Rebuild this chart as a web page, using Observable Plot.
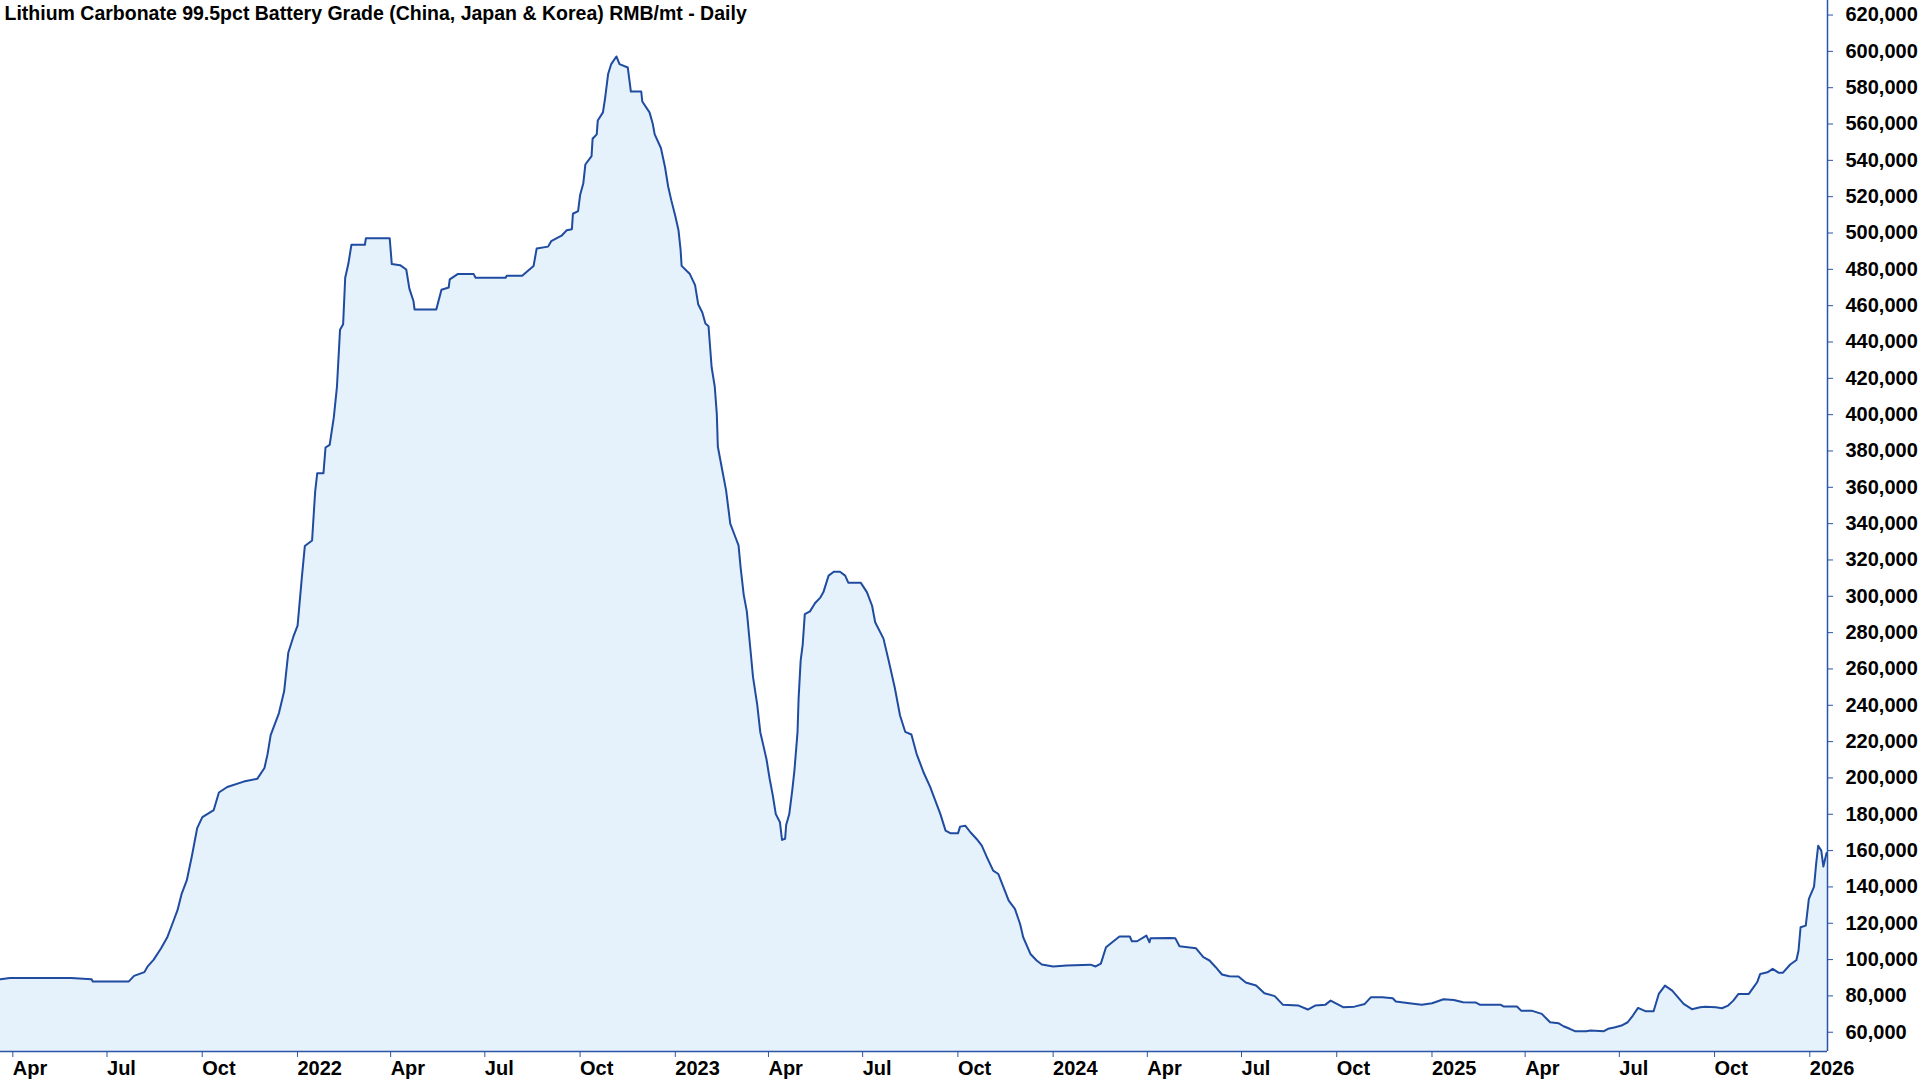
<!DOCTYPE html>
<html>
<head>
<meta charset="utf-8">
<script src="https://cdn.jsdelivr.net/npm/d3@7"></script>
<script src="https://cdn.jsdelivr.net/npm/@observablehq/plot@0.6"></script>
<style>
  html, body { margin: 0; padding: 0; background: #ffffff; }
  #chart { width: 1920px; height: 1080px; }
</style>
</head>
<body>
<div id="chart"></div>
<script>
const title = "Lithium Carbonate 99.5pct Battery Grade (China, Japan & Korea) RMB/mt - Daily";

const dates = [
  "2021-03-23","2021-04-01","2021-05-30","2021-06-19","2021-06-20","2021-07-25","2021-07-30","2021-08-09","2021-08-12","2021-08-18",
  "2021-08-25","2021-08-31","2021-09-05","2021-09-10","2021-09-14","2021-09-19","2021-09-24","2021-09-29","2021-10-04","2021-10-15",
  "2021-10-20","2021-10-28","2021-11-13","2021-11-26","2021-12-03","2021-12-06","2021-12-09","2021-12-17","2021-12-22","2021-12-26",
  "2021-12-31","2022-01-04","2022-01-08","2022-01-11","2022-01-18","2022-01-21","2022-01-23","2022-01-29","2022-01-31","2022-02-04",
  "2022-02-08","2022-02-11","2022-02-14","2022-02-17","2022-02-19","2022-02-22","2022-02-25","2022-03-10","2022-03-11","2022-04-03",
  "2022-04-05","2022-04-13","2022-04-19","2022-04-22","2022-04-26","2022-04-27","2022-05-18","2022-05-23","2022-05-30","2022-05-31",
  "2022-06-08","2022-06-23","2022-06-25","2022-07-24","2022-07-25","2022-08-09","2022-08-14","2022-08-20","2022-08-23","2022-09-03",
  "2022-09-06","2022-09-16","2022-09-21","2022-09-26","2022-09-27","2022-10-02","2022-10-04","2022-10-07","2022-10-09","2022-10-15",
  "2022-10-16","2022-10-20","2022-10-21","2022-10-26","2022-10-28","2022-10-31","2022-11-03","2022-11-08","2022-11-11","2022-11-19",
  "2022-11-22","2022-12-02","2022-12-03","2022-12-10","2022-12-13","2022-12-15","2022-12-21","2022-12-25","2022-12-28","2022-12-31",
  "2023-01-04","2023-01-07","2023-01-09","2023-01-10","2023-01-18","2023-01-23","2023-01-26","2023-01-30","2023-02-02","2023-02-05",
  "2023-02-06","2023-02-08","2023-02-11","2023-02-13","2023-02-14","2023-02-18","2023-02-22","2023-02-26","2023-03-03","2023-03-06",
  "2023-03-08","2023-03-11","2023-03-14","2023-03-17","2023-03-20","2023-03-24","2023-03-27","2023-03-30","2023-04-02","2023-04-05",
  "2023-04-08","2023-04-11","2023-04-15","2023-04-17","2023-04-20","2023-04-21","2023-04-24","2023-04-27","2023-04-29","2023-05-02",
  "2023-05-03","2023-05-05","2023-05-07","2023-05-09","2023-05-14","2023-05-19","2023-05-24","2023-05-27","2023-06-01","2023-06-06",
  "2023-06-12","2023-06-17","2023-06-20","2023-07-02","2023-07-08","2023-07-13","2023-07-16","2023-07-24","2023-07-29","2023-08-04",
  "2023-08-09","2023-08-14","2023-08-20","2023-08-25","2023-09-01","2023-09-07","2023-09-12","2023-09-17","2023-09-22","2023-09-27",
  "2023-10-04","2023-10-06","2023-10-11","2023-10-16","2023-10-22","2023-10-27","2023-11-01","2023-11-07","2023-11-12","2023-11-17",
  "2023-11-22","2023-11-28","2023-12-03","2023-12-06","2023-12-13","2023-12-19","2023-12-24","2024-01-04","2024-01-17","2024-02-09",
  "2024-02-14","2024-02-19","2024-02-24","2024-03-01","2024-03-08","2024-03-18","2024-03-20","2024-03-25","2024-04-03","2024-04-06",
  "2024-04-07","2024-04-26","2024-05-01","2024-05-05","2024-05-13","2024-05-21","2024-05-28","2024-06-03","2024-06-09","2024-06-15",
  "2024-06-22","2024-07-01","2024-07-08","2024-07-18","2024-07-26","2024-08-05","2024-08-13","2024-08-28","2024-09-06","2024-09-13",
  "2024-09-23","2024-09-28","2024-10-04","2024-10-10","2024-10-21","2024-10-31","2024-11-06","2024-11-17","2024-11-27","2024-11-30",
  "2024-12-13","2024-12-25","2025-01-04","2025-01-15","2025-01-25","2025-02-03","2025-02-15","2025-02-19","2025-03-11","2025-03-14",
  "2025-03-27","2025-03-31","2025-04-10","2025-04-20","2025-04-28","2025-05-06","2025-05-11","2025-05-17","2025-05-22","2025-06-02",
  "2025-06-06","2025-06-19","2025-06-23","2025-06-30","2025-07-06","2025-07-12","2025-07-17","2025-07-22","2025-07-29","2025-08-06",
  "2025-08-11","2025-08-17","2025-08-24","2025-08-30","2025-09-04","2025-09-12","2025-09-20","2025-09-25","2025-10-05","2025-10-11",
  "2025-10-17","2025-10-22","2025-10-27","2025-11-06","2025-11-11","2025-11-14","2025-11-17","2025-11-24","2025-11-29","2025-12-05",
  "2025-12-09","2025-12-16","2025-12-22","2025-12-24","2025-12-26","2025-12-31","2026-01-03","2026-01-08","2026-01-10","2026-01-12",
  "2026-01-15","2026-01-17","2026-01-18","2026-01-20","2026-01-21"
];

const prices = [
  89200,89800,89800,89200,88000,88000,91000,93100,96100,100000,
  106100,112100,119600,127200,136200,143700,157300,172400,178400,182300,
  192000,195000,198000,199500,205500,213100,223600,235700,247700,268900,
  277900,283900,309600,327700,330700,357800,367800,367800,381900,383400,
  398500,415100,446700,449800,475400,482900,493500,493500,497100,497100,
  482900,482300,479900,469400,462400,457900,457900,468800,470000,474500,
  477500,477500,475400,475400,476500,476500,478900,481900,491500,492500,
  495500,498500,501500,502100,510600,512100,521100,527200,537700,542300,
  551900,554300,561900,566400,573900,587500,593000,597200,593000,591100,
  577900,577900,572400,566400,560400,554300,546800,536200,525600,518100,
  509100,501500,490900,481900,477400,471300,460800,456200,450200,448700,
  441100,426100,415500,400400,382300,370200,358200,340000,332500,328000,
  315900,300800,291700,273600,255500,240500,225200,217800,210300,199700,
  190700,180100,175600,165900,166500,174100,180100,193700,204200,225400,
  243500,264600,273600,290200,291700,296300,299300,302300,311400,313500,
  313500,311400,307500,307500,302300,294800,285700,276700,264600,249500,
  234400,225400,223900,213300,202700,195200,187600,180100,171000,169500,
  169500,173200,173700,170100,166400,162700,156300,149000,147100,139800,
  132500,127900,119600,112300,103100,99500,97300,96200,96700,97200,
  96200,97800,106800,109500,112700,112700,110100,110100,113200,109500,
  111700,111900,111700,107300,106800,106200,101300,99500,95800,91800,
  90800,90700,87400,85700,81500,79900,75100,74700,72500,74700,
  75200,77400,75600,73800,74100,75600,79300,79300,78700,76900,
  76000,75200,76000,78200,77800,76500,76400,75200,75200,74200,
  74200,71900,71900,70100,65500,65000,63300,61900,60600,60600,
  60900,60600,61900,62800,63700,65500,69200,73400,71600,71600,
  81100,85700,82900,78900,75600,72700,73800,74100,73800,73200,
  74700,77400,81100,81100,85100,87500,92100,93000,94900,92700,
  92800,97300,99800,105000,117800,118700,133400,140200,152600,162700,
  160000,151200,153600,158500,159000
];

const xDomain = ["2021-03-23", "2026-01-21"];
const yDomain = [49400, 628000];
const xTickDates = [
  "2021-04-01","2021-07-01","2021-10-01","2022-01-01","2022-04-01","2022-07-01","2022-10-01",
  "2023-01-01","2023-04-01","2023-07-01","2023-10-01","2024-01-01","2024-04-01","2024-07-01",
  "2024-10-01","2025-01-01","2025-04-01","2025-07-01","2025-10-01","2026-01-01"
];
const monthNames = ["Jan","Feb","Mar","Apr","May","Jun","Jul","Aug","Sep","Oct","Nov","Dec"];
const yTicks = [60000,80000,100000,120000,140000,160000,180000,200000,220000,240000,260000,280000,
  300000,320000,340000,360000,380000,400000,420000,440000,460000,480000,500000,520000,540000,560000,
  580000,600000,620000];

const lineColor = "#1f4ba0";
const fillColor = "#e5f1fb";
const axisColor = "#2a55a8";

const data = dates.map((d, i) => ({date: new Date(d), price: prices[i]}));
const xd = xDomain.map(d => new Date(d));

const chart = Plot.plot({
  width: 1920,
  height: 1080,
  marginLeft: 0,
  marginRight: 93,
  marginTop: 0,
  marginBottom: 29,
  style: {
    fontFamily: "'Liberation Sans', Arial, sans-serif",
    fontSize: "20px",
    fontWeight: "bold",
    color: "#000000",
    background: "#ffffff",
    overflow: "visible"
  },
  x: {type: "utc", domain: xd},
  y: {domain: yDomain},
  marks: [
    Plot.areaY(data, {x: "date", y1: yDomain[0], y2: "price", fill: fillColor, clip: true}),
    Plot.lineY(data, {x: "date", y: "price", stroke: lineColor, strokeWidth: 2, clip: true}),
    Plot.ruleY([yDomain[0]], {stroke: axisColor, strokeWidth: 1.5}),
    Plot.ruleX([xd[1]], {stroke: axisColor, strokeWidth: 1.5}),
    Plot.axisX({
      ticks: xTickDates.map(d => new Date(d)),
      tickFormat: d => d.getUTCMonth() === 0 ? String(d.getUTCFullYear()) : monthNames[d.getUTCMonth()],
      tickSize: 6,
      tickPadding: 3,
      textAnchor: "start",
      dx: 3,
      stroke: axisColor,
      fill: "#000000",
      fontSize: 20,
      fontWeight: "bold",
      label: null
    }),
    Plot.axisY({
      anchor: "right",
      ticks: yTicks,
      tickFormat: d3.format(","),
      tickSize: 5,
      tickPadding: 13,
      stroke: axisColor,
      fill: "#000000",
      fontSize: 20,
      fontWeight: "bold",
      label: null
    }),
    Plot.text([title], {
      frameAnchor: "top-left",
      textAnchor: "start",
      lineAnchor: "top",
      dx: 4,
      dy: 6,
      fontSize: 19.5,
      fontWeight: "bold",
      fill: "#000000"
    })
  ]
});
document.getElementById("chart").appendChild(chart);
</script>
</body>
</html>
